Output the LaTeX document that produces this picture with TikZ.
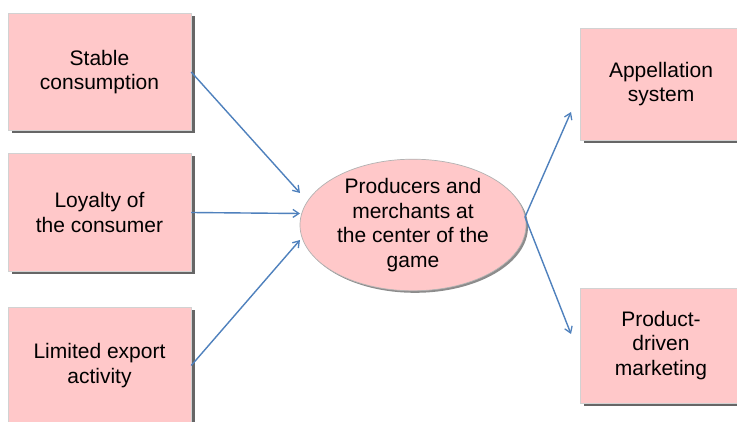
\documentclass[tikz,border=0pt]{standalone}
\usepackage{fontspec}
\setmainfont{Liberation Sans}
\usetikzlibrary{arrows.meta,shadows,shapes.geometric}
\definecolor{boxpink}{HTML}{FFC8C9}
\definecolor{linkblue}{HTML}{4F81BD}
\tikzset{
  factor/.style={rectangle, fill=boxpink, draw=gray!35, line width=0.5pt,
    align=center, inner sep=0pt,
    font=\fontsize{21}{24.5}\selectfont,
    drop shadow={shadow xshift=3.5pt, shadow yshift=-3pt, fill=black!70, opacity=0.85}},
  core/.style={ellipse, fill=boxpink, draw=gray!60, line width=0.7pt,
    minimum width=226pt, minimum height=124pt, align=center, inner sep=0pt,
    font=\fontsize{21}{24.5}\selectfont,
    drop shadow={shadow xshift=2pt, shadow yshift=-2pt, fill=black!60, opacity=0.75}},
  link/.style={draw=linkblue, line width=1.4pt,
    -{Straight Barb[length=6pt,width=8pt,line width=1.3pt]}}
}
\begin{document}
\begin{tikzpicture}[x=1pt,y=-1pt]
\useasboundingbox (0,0) rectangle (737,422);
\fill[white] (0,0) rectangle (737,422);
\clip (0,0) rectangle (737,422);

% causes on the left
\node[factor, minimum width=183pt, minimum height=117pt] (b1) at (99.5,72) {Stable\\consumption};
\node[factor, minimum width=183pt, minimum height=118pt] (b2) at (99.5,212.5) {Loyalty of\\the consumer};
\node[factor, minimum width=183pt, minimum height=117pt] (b3) at (99.5,365.5) {Limited export\\activity};

% central actors
\node[core] (e) at (413,225) {Producers and\\merchants at\\the center of the\\game};

% outcomes on the right
\node[factor, minimum width=162pt, minimum height=112pt] (r1) at (661,84) {Appellation\\system};
\node[factor, minimum width=162pt, minimum height=115pt] (r2) at (661,345.5) {Product-\\driven\\marketing};

% arrow end points next to the ellipse and the right-hand boxes
\coordinate (in1) at (300,193);
\coordinate (in2) at (300,213.5);
\coordinate (in3) at (300,240);
\coordinate (src) at (525,217);
\coordinate (out1) at (571,112);
\coordinate (out2) at (571,334);

\draw[link] (b1.east) -- (in1);
\draw[link] (b2.east) -- (in2);
\draw[link] (b3.east) -- (in3);
\draw[link] (src) -- (out1);
\draw[link] (src) -- (out2);
\end{tikzpicture}
\end{document}
